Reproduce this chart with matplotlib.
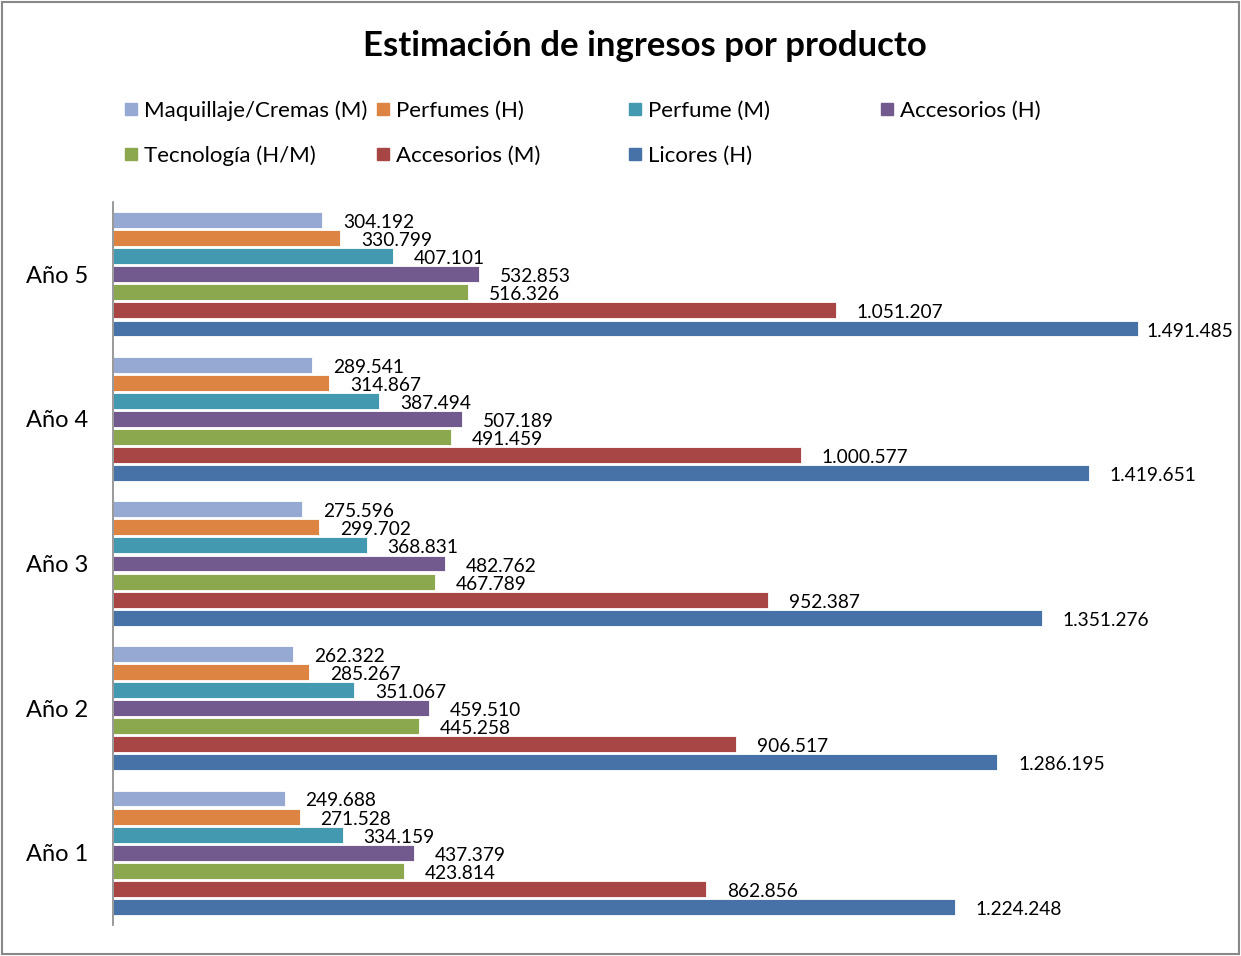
import numpy as np
import matplotlib.pyplot as plt
from matplotlib.patches import Rectangle

plt.rcParams['font.family'] = ['Lato', 'DejaVu Sans']

# ------------------------------ Datos ------------------------------
anios = ['Año 1', 'Año 2', 'Año 3', 'Año 4', 'Año 5']
series = ['Maquillaje/Cremas (M)', 'Perfumes (H)', 'Perfume (M)', 'Accesorios (H)',
          'Tecnología (H/M)', 'Accesorios (M)', 'Licores (H)']
colores = ['#95A9D3', '#DD8443', '#4299B0', '#735A8E', '#8CA84F', '#A84645', '#4672A8']

maquillaje = [249688, 262322, 275596, 289541, 304192]
perfumes_h = [271528, 285267, 299702, 314867, 330799]
perfume_m = [334159, 351067, 368831, 387494, 407101]
accesorios_h = [437379, 459510, 482762, 507189, 532853]
tecnologia = [423814, 445258, 467789, 491459, 516326]
accesorios_m = [862856, 906517, 952387, 1000577, 1051207]
licores = [1224248, 1286195, 1351276, 1419651, 1491485]

valores = [maquillaje, perfumes_h, perfume_m, accesorios_h, tecnologia, accesorios_m, licores]

# ------------------------------ Grafico ------------------------------
W, H = 1241, 956
fig = plt.figure(figsize=(W / 100, H / 100), dpi=100)
ax = fig.add_axes([113 / W, 1 - 925 / H, 1100 / W, 723 / H])

y = np.arange(len(anios))
paso = 1 / 8
etiquetas = []
for i, (nombre, vals, col) in enumerate(zip(series, valores, colores)):
    pos = y + (3 - i) * paso
    ax.barh(pos, vals, height=paso * 0.88, color=col, edgecolor='white', linewidth=0.6)
    for p, v in zip(pos, vals):
        t = ax.annotate(f'{v:,}'.replace(',', '.'), (v, p), xytext=(15, -1.8), textcoords='offset points',
                        va='center', ha='left', fontsize=13.8, color='black')
        etiquetas.append(t)

ax.set_xlim(0, 1600000)
ax.set_ylim(-0.5, 4.5)
ax.set_yticks(y)
ax.set_yticklabels(anios, fontsize=17)
ax.tick_params(axis='y', length=0, pad=18)
ax.set_xticks([])
for s in ['top', 'right', 'bottom']:
    ax.spines[s].set_visible(False)
ax.spines['left'].set_color('#888888')
ax.spines['left'].set_linewidth(1.2)

# Las etiquetas que se salen del marco se corren a la izquierda (como Excel)
fig.canvas.draw()
rend = fig.canvas.get_renderer()
for t in etiquetas:
    bb = t.get_window_extent(rend)
    if bb.x1 > W - 8:
        dx = (bb.x1 - (W - 8)) * 72 / 100
        x, yy = t.xyann
        t.xyann = (x - dx, yy)

fig.text(645 / W, 1 - 46 / H, 'Estimación de ingresos por producto', ha='center', va='center',
         fontsize=25, fontweight='bold')

# Leyenda en cuadricula de 4 columnas
for i, (nombre, col) in enumerate(zip(series, colores)):
    fila, columna = divmod(i, 4)
    x0 = 125 + columna * 252
    y0 = 109 + fila * 45
    fig.patches.append(Rectangle((x0 / W, 1 - (y0 + 6) / H), 12 / W, 12 / H,
                                 transform=fig.transFigure, color=col))
    fig.text((x0 + 19) / W, 1 - (y0 + 2) / H, nombre, ha='left', va='center', fontsize=16)

fig.patches.append(Rectangle((2 / W, 2 / H), 1237 / W, 952 / H, transform=fig.transFigure,
                             fill=False, edgecolor='#888888', linewidth=1.5))

fig.savefig('out.png', dpi=100)
